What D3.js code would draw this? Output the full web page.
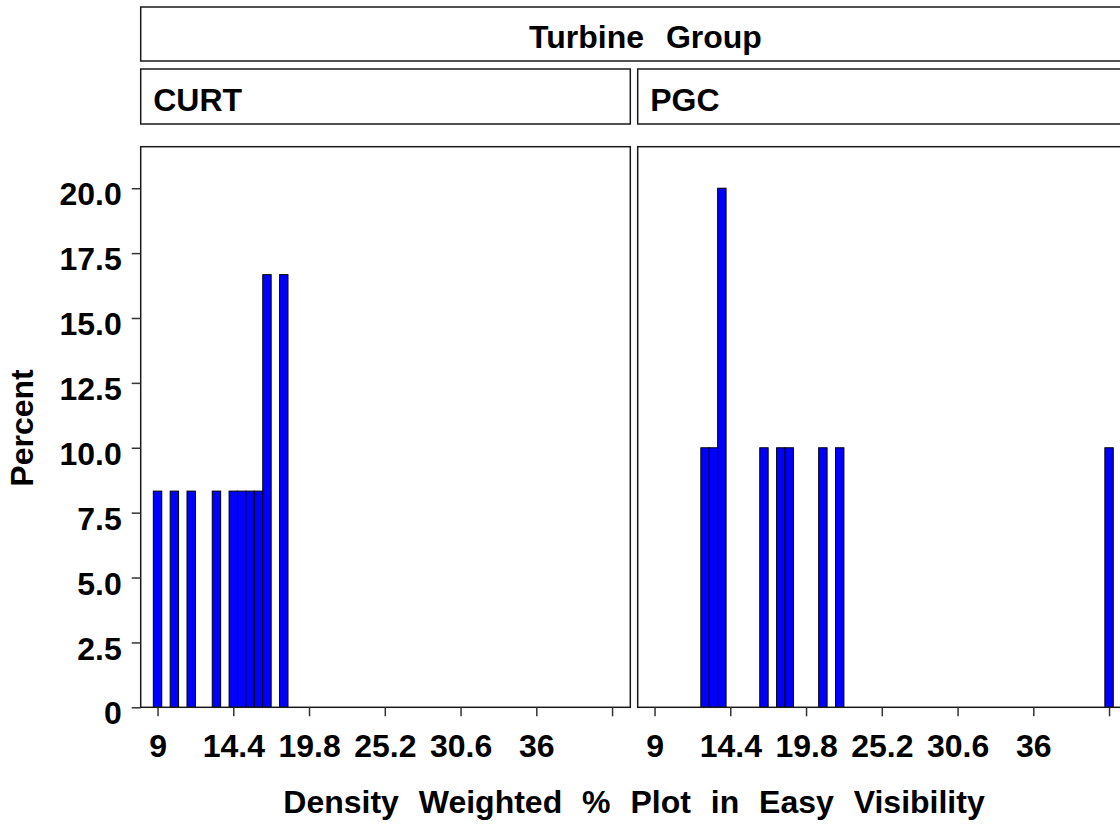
<!DOCTYPE html>
<html>
<head>
<meta charset="utf-8">
<script src="https://cdn.jsdelivr.net/npm/d3@7"></script>
<style>
  html, body { margin: 0; padding: 0; background: #fff; }
  svg text { font-family: "Liberation Sans", Arial, sans-serif; font-weight: bold; fill: #000; }
</style>
</head>
<body>
<svg id="chart" width="1120" height="825"></svg>
<script>
// ---- data ----
const groupTitle = "Turbine Group";
const panelNames = ["CURT", "PGC"];
const binWidth = 0.6;
const curtMidpoints = [9.0, 10.2, 11.4, 13.2, 14.4, 15.0, 15.6, 16.2, 16.8, 18.0];
const curtPercents  = [8.33, 8.33, 8.33, 8.33, 8.33, 8.33, 8.33, 8.33, 16.67, 16.67];
const pgcMidpoints  = [12.6, 13.2, 13.8, 16.8, 18.0, 18.6, 21.0, 22.2, 41.4];
const pgcPercents   = [10, 10, 20, 10, 10, 10, 10, 10, 10];
const xTickValues = [9, 14.4, 19.8, 25.2, 30.6, 36, 41.4];
const xTickLabels = ["9", "14.4", "19.8", "25.2", "30.6", "36", ""];
const yTickValues = [0, 2.5, 5, 7.5, 10, 12.5, 15, 17.5, 20];
const yTickLabels = ["0", "2.5", "5.0", "7.5", "10.0", "12.5", "15.0", "17.5", "20.0"];
const xLabel = "Density Weighted % Plot in Easy Visibility";
const yLabel = "Percent";

// ---- layout ----
const svg = d3.select("#chart");
const panelTop = 146.7, panelBottom = 707.3;
const panelW = 489.6;
const panelLefts = [140.7, 637.7];
const xDomain = [7.8, 42.7];
const yDomain = [0, 21.6];
const frameColor = "#1a1a1a";

const y = d3.scaleLinear().domain(yDomain).range([panelBottom, panelTop]);

const panelsData = [
  curtMidpoints.map((m, i) => ({ mid: m, pct: curtPercents[i] })),
  pgcMidpoints.map((m, i) => ({ mid: m, pct: pgcPercents[i] }))
];

// group header
svg.append("rect")
  .attr("x", 140.7).attr("y", 7).attr("width", 1127.3 - 140.7).attr("height", 54)
  .attr("fill", "none").attr("stroke", frameColor).attr("stroke-width", 1.5);
svg.append("text")
  .attr("x", 645.5).attr("y", 48)
  .attr("text-anchor", "middle")
  .attr("font-size", 32).attr("word-spacing", 13)
  .text(groupTitle);

panelLefts.forEach((left, p) => {
  const x = d3.scaleLinear().domain(xDomain).range([left, left + panelW]);
  const g = svg.append("g");

  // strip header
  g.append("rect")
    .attr("x", left).attr("y", 69).attr("width", panelW).attr("height", 55)
    .attr("fill", "none").attr("stroke", frameColor).attr("stroke-width", 1.5);
  g.append("text")
    .attr("x", left + 12.5).attr("y", 111)
    .attr("font-size", 32)
    .text(panelNames[p]);

  // bars
  const bw = x(binWidth) - x(0);
  g.selectAll("rect.bar").data(panelsData[p]).join("rect")
    .attr("class", "bar")
    .attr("x", d => x(d.mid - binWidth / 2))
    .attr("y", d => y(d.pct))
    .attr("width", bw)
    .attr("height", d => y(0) - y(d.pct))
    .attr("fill", "#0000ff")
    .attr("stroke", "#000").attr("stroke-width", 1);

  // frame
  g.append("rect")
    .attr("x", left).attr("y", panelTop).attr("width", panelW).attr("height", panelBottom - panelTop)
    .attr("fill", "none").attr("stroke", frameColor).attr("stroke-width", 1.5);

  // x axis
  const xAxis = d3.axisBottom(x)
    .tickValues(xTickValues)
    .tickFormat((d, i) => xTickLabels[i])
    .tickSize(9).tickPadding(8);
  const ax = g.append("g").attr("transform", `translate(0,${panelBottom})`).call(xAxis);
  ax.select(".domain").remove();
  ax.selectAll(".tick line").attr("stroke", "#333").attr("stroke-width", 1.5);
  ax.selectAll(".tick text")
    .attr("font-size", 32).attr("font-family", "Liberation Sans, Arial, sans-serif")
    .attr("font-weight", "bold").attr("fill", "#000").attr("dy", "0.71em").attr("y", 27);

  // y axis on first panel
  if (p === 0) {
    const yAxis = d3.axisLeft(y)
      .tickValues(yTickValues)
      .tickFormat((d, i) => yTickLabels[i])
      .tickSize(9).tickPadding(10);
    const ay = g.append("g").attr("transform", `translate(${left},0)`).call(yAxis);
    ay.select(".domain").remove();
    ay.selectAll(".tick line").attr("stroke", "#333").attr("stroke-width", 1.5);
    ay.selectAll(".tick text")
      .attr("font-size", 32).attr("font-family", "Liberation Sans, Arial, sans-serif")
      .attr("font-weight", "bold").attr("fill", "#000").attr("dy", "0.52em");
  }
});

// axis titles
svg.append("text")
  .attr("x", 634).attr("y", 813)
  .attr("text-anchor", "middle")
  .attr("font-size", 32).attr("word-spacing", 11)
  .text(xLabel);
svg.append("text")
  .attr("transform", "translate(33,428) rotate(-90)")
  .attr("text-anchor", "middle")
  .attr("font-size", 32)
  .text(yLabel);
</script>
</body>
</html>
